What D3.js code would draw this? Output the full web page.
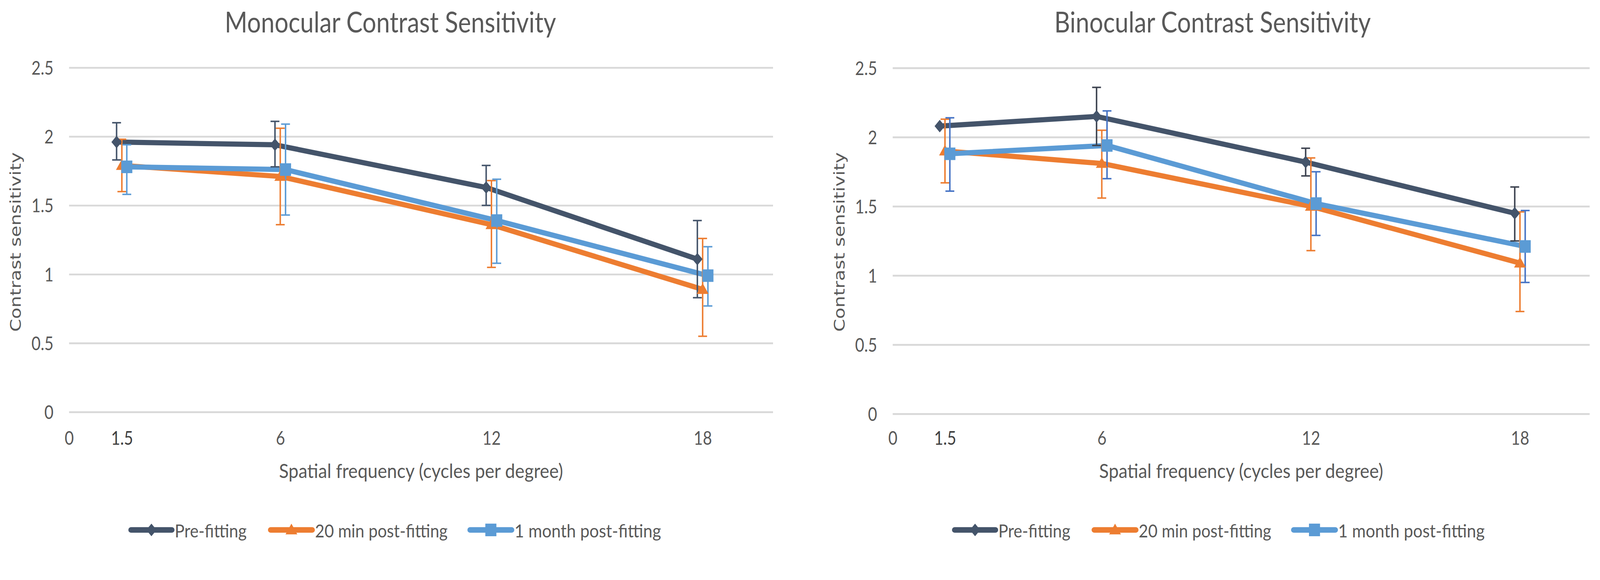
<!DOCTYPE html>
<html>
<head>
<meta charset="utf-8">
<script src="https://cdn.jsdelivr.net/npm/d3@7"></script>
<style>
  html, body { margin: 0; padding: 0; width: 100%; height: 100%; overflow: hidden; background: #fff; }
  svg { display: block; }
</style>
</head>
<body>
<script>
// tick values and series names
var xTickValues = [0, 1.5, 6, 12, 18];
var yTickValues = [0, 0.5, 1, 1.5, 2, 2.5];
var seriesNames = ["Pre-fitting", "20 min post-fitting", "1 month post-fitting"];

// the original nudges the series sideways so the error bars don't overlap
var preX = [1.35, 5.85, 11.85, 17.85];
var postX = [1.5, 6, 12, 18];
var monthX = [1.64, 6.15, 12.15, 18.15];

// monocular
var monoPre = [1.96, 1.94, 1.63, 1.11];
var monoPreLo = [1.83, 1.78, 1.50, 0.83];
var monoPreHi = [2.10, 2.11, 1.79, 1.39];
var monoPost = [1.79, 1.71, 1.36, 0.89];
var monoPostLo = [1.60, 1.36, 1.05, 0.55];
var monoPostHi = [1.98, 2.06, 1.68, 1.26];
var monoMonth = [1.78, 1.76, 1.39, 0.99];
var monoMonthLo = [1.58, 1.43, 1.08, 0.77];
var monoMonthHi = [1.94, 2.09, 1.69, 1.20];

// binocular (no visible error bar on pre-fitting at 1.5)
var binoPre = [2.08, 2.15, 1.82, 1.45];
var binoPreLo = [null, 1.94, 1.72, 1.25];
var binoPreHi = [null, 2.36, 1.92, 1.64];
var binoPost = [1.90, 1.81, 1.50, 1.09];
var binoPostLo = [1.67, 1.56, 1.18, 0.74];
var binoPostHi = [2.13, 2.05, 1.85, 1.46];
var binoMonth = [1.88, 1.94, 1.52, 1.21];
var binoMonthLo = [1.61, 1.70, 1.29, 0.95];
var binoMonthHi = [2.14, 2.19, 1.75, 1.47];

var lineColors = ["#44546A", "#ED7D31", "#5B9BD5"];
var textColor = "#595959";
var font = "Lato, 'Open Sans', sans-serif";

var W = 4332, H = 1484;
// draw in 4332x1484 units and let the viewBox fit whatever the viewport really is
var svg = d3.select("body").append("svg")
  .attr("viewBox", "0 0 " + W + " " + H)
  .attr("preserveAspectRatio", "xMinYMin meet")
  .attr("width", window.innerWidth || W)
  .attr("height", window.innerHeight || H)
  .style("background", "#fff");

// marker shapes (a bit taller than wide, like the squashed original)
function markerPath(i) {
  if (i == 0) return "M0,-17L14,0L0,17L-14,0Z";
  if (i == 1) return "M0,-17L16,12L-16,12Z";
  return "M-15,-17H15V17H-15Z";
}

// squeeze text horizontally, the source image is narrower than it should be
function squeeze(sel, k) {
  sel.each(function() {
    var len = this.getComputedTextLength();
    d3.select(this).attr("textLength", len * k).attr("lengthAdjust", "spacingAndGlyphs");
  });
}

function zip(xs, ys, lo, hi) {
  return xs.map(function(x, i) {
    return { x: x, y: ys[i], lo: lo[i], hi: hi[i] };
  });
}

function drawChart(c) {
  var g = svg.append("g");
  var x = d3.scaleLinear().domain([0, 20]).range([c.x0, c.x1]);
  var y = d3.scaleLinear().domain([0, 2.5]).range([c.y0, c.y1]);

  // y axis = gridlines + labels
  var yAxis = g.append("g")
    .attr("transform", "translate(" + c.x0 + ",0)")
    .call(d3.axisLeft(y).tickValues(yTickValues)
      .tickSize(-(c.x1 - c.x0)).tickPadding(42)
      .tickFormat(function(d) { return d; }));
  yAxis.select(".domain").remove();
  yAxis.selectAll(".tick line").attr("stroke", "#d9d9d9").attr("stroke-width", 5);
  yAxis.selectAll(".tick text")
    .attr("fill", textColor)
    .attr("dy", "0.36em")
    .style("font-family", font)
    .style("font-size", "51px")
    .call(squeeze, 0.84);

  // x axis labels only
  var xAxis = g.append("g")
    .attr("transform", "translate(0," + c.y0 + ")")
    .call(d3.axisBottom(x).tickValues(xTickValues).tickSize(0)
      .tickFormat(function(d) { return d; }));
  xAxis.select(".domain").remove();
  xAxis.selectAll(".tick text")
    .attr("y", 1204 - c.y0)
    .attr("dy", 0)
    .attr("fill", function(d) { return d == 1.5 ? "#404040" : textColor; })
    .style("font-family", font)
    .style("font-size", "51px")
    .call(squeeze, 0.84);

  // title
  g.append("text")
    .attr("x", c.titleX).attr("y", 88)
    .attr("text-anchor", "middle")
    .attr("fill", textColor)
    .attr("textLength", c.titleLen).attr("lengthAdjust", "spacingAndGlyphs")
    .style("font-family", font).style("font-size", "77px")
    .text(c.title);

  // axis titles
  g.append("text")
    .attr("x", (c.x0 + c.x1) / 2).attr("y", 1293)
    .attr("text-anchor", "middle")
    .attr("fill", textColor)
    .attr("textLength", 769).attr("lengthAdjust", "spacingAndGlyphs")
    .style("font-family", font).style("font-size", "53px")
    .text("Spatial frequency (cycles per degree)");

  g.append("text")
    .attr("transform", "translate(" + c.yTitleX + ",655) rotate(-90)")
    .attr("text-anchor", "middle")
    .attr("dy", "0.35em")
    .attr("fill", textColor)
    .attr("textLength", 486).attr("lengthAdjust", "spacingAndGlyphs")
    .style("font-family", "'DejaVu Sans', sans-serif").style("font-size", "40px")
    .text("Contrast sensitivity");

  var line = d3.line().x(function(d) { return x(d.x); }).y(function(d) { return y(d.y); });

  c.series.forEach(function(s, i) {
    g.append("path")
      .datum(s)
      .attr("d", line)
      .attr("fill", "none")
      .attr("stroke", lineColors[i])
      .attr("stroke-width", 14)
      .attr("stroke-linejoin", "round")
      .attr("stroke-linecap", "round");
  });

  c.series.forEach(function(s, i) {
    var bars = s.filter(function(d) { return d.lo != null; });
    var eb = g.append("g").attr("stroke", c.barColors[i]).attr("stroke-width", 4);
    eb.selectAll(".v").data(bars).enter().append("line")
      .attr("x1", function(d) { return x(d.x); })
      .attr("x2", function(d) { return x(d.x); })
      .attr("y1", function(d) { return y(d.lo); })
      .attr("y2", function(d) { return y(d.hi); });
    ["lo", "hi"].forEach(function(k) {
      eb.selectAll(".c" + k).data(bars).enter().append("line")
        .attr("x1", function(d) { return x(d.x) - 12; })
        .attr("x2", function(d) { return x(d.x) + 12; })
        .attr("y1", function(d) { return y(d[k]); })
        .attr("y2", function(d) { return y(d[k]); });
    });
  });

  c.series.forEach(function(s, i) {
    g.selectAll(".m" + i).data(s).enter().append("path")
      .attr("d", markerPath(i))
      .attr("transform", function(d) { return "translate(" + x(d.x) + "," + y(d.y) + ")"; })
      .attr("fill", lineColors[i]);
  });

  // legend
  var legendLine = [[168, 278], [546, 658], [1086, 1198]];
  var legendText = [286, 666, 1206];
  var legendLen = [195, 359, 397];
  seriesNames.forEach(function(name, i) {
    var lg = g.append("g").attr("transform", "translate(" + c.x0 + ",1434)");
    lg.append("line")
      .attr("x1", legendLine[i][0]).attr("x2", legendLine[i][1])
      .attr("stroke", lineColors[i]).attr("stroke-width", 15)
      .attr("stroke-linecap", "round");
    lg.append("path")
      .attr("d", markerPath(i))
      .attr("transform", "translate(" + (legendLine[i][0] + legendLine[i][1]) / 2 + ",0)")
      .attr("fill", lineColors[i]);
    lg.append("text")
      .attr("x", legendText[i]).attr("y", 20)
      .attr("fill", textColor)
      .attr("textLength", legendLen[i]).attr("lengthAdjust", "spacingAndGlyphs")
      .style("font-family", font).style("font-size", "50px")
      .text(name);
  });
}

drawChart({
  title: "Monocular Contrast Sensitivity",
  titleX: 1057, titleLen: 897,
  x0: 187, x1: 2093, y0: 1115, y1: 183,
  yTitleX: 42,
  barColors: ["#44546A", "#ED7D31", "#5B9BD5"],
  series: [
    zip(preX, monoPre, monoPreLo, monoPreHi),
    zip(postX, monoPost, monoPostLo, monoPostHi),
    zip(monthX, monoMonth, monoMonthLo, monoMonthHi)
  ]
});

drawChart({
  title: "Binocular Contrast Sensitivity",
  titleX: 3283, titleLen: 857,
  x0: 2417, x1: 4304, y0: 1120, y1: 184,
  yTitleX: 2273,
  barColors: ["#3d4350", "#ED7D31", "#4472C4"],
  series: [
    zip(preX, binoPre, binoPreLo, binoPreHi),
    zip(postX, binoPost, binoPostLo, binoPostHi),
    zip(monthX, binoMonth, binoMonthLo, binoMonthHi)
  ]
});
</script>
</body>
</html>
